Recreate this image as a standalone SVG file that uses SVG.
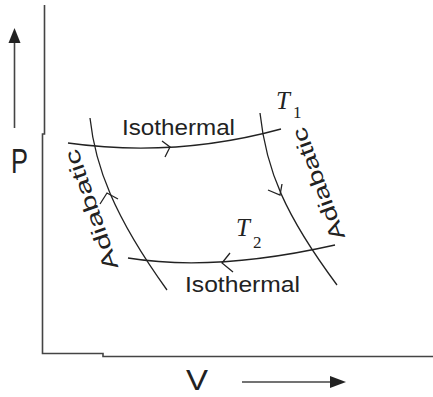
<svg xmlns="http://www.w3.org/2000/svg" width="433" height="397" viewBox="0 0 433 397">
<style>
.axis{fill:none;stroke:#444;stroke-width:1.6}
.curve{fill:none;stroke:#222;stroke-width:1.3}
.chev{fill:none;stroke:#222;stroke-width:1.3;stroke-linejoin:miter}
.lbl{font-family:"Liberation Sans",Arial,sans-serif;fill:#222}
.t{font-family:"Liberation Serif","Times New Roman",serif;font-style:italic;fill:#222}
.sub{font-family:"Liberation Serif","Times New Roman",serif;fill:#222}
</style>
<rect width="433" height="397" fill="#fff"/>
<g id="axes">
<polyline class="axis" points="44.5,5 44.5,134 42.5,134 42.5,353.5 103,353.5 103,356.5 433,356.5"/>
<line class="axis" x1="14.5" y1="128" x2="14.5" y2="40"/>
<polygon points="14.5,28 8.5,43 20.5,43" fill="#222"/>
<line class="axis" x1="242" y1="382" x2="332" y2="382"/>
<polygon points="346,382 330,376 330,388" fill="#222"/>
<text class="lbl" x="11" y="173" font-size="35" textLength="17" lengthAdjust="spacingAndGlyphs">P</text>
<text class="lbl" x="186" y="390" font-size="30" textLength="22" lengthAdjust="spacingAndGlyphs">V</text>
</g>
<g id="connectors">
<path id="iso-top" class="curve" d="M68,143 Q175,158 281,129"/>
<polyline class="chev" points="162,141 170,147 165,157"/>
<path id="iso-bottom" class="curve" d="M128,258 Q215,272 335,245"/>
<polyline class="chev" points="230,253 222,263 233,272"/>
<path id="adi-left" class="curve" d="M90,118 C95,165 113,215 167,290"/>
<polyline class="chev" points="100,204 107,193 118,199"/>
<path id="adi-right" class="curve" d="M260,113 C266,170 285,215 337,285"/>
<polyline class="chev" points="268,190 280,195 282,184"/>
</g>
<g id="label-iso-top"><text class="lbl" x="122" y="135" font-size="22" textLength="113" lengthAdjust="spacingAndGlyphs">Isothermal</text></g>
<g id="label-iso-bottom"><text class="lbl" x="185" y="292" font-size="22" textLength="115" lengthAdjust="spacingAndGlyphs">Isothermal</text></g>
<g id="label-adi-left"><text class="lbl" transform="translate(91,210) rotate(-109)" x="0" y="0" font-size="21" text-anchor="middle" dominant-baseline="central" textLength="126" lengthAdjust="spacingAndGlyphs">Adiabatic</text></g>
<g id="label-adi-right"><text class="lbl" transform="translate(318,184) rotate(-110)" x="0" y="0" font-size="21" text-anchor="middle" dominant-baseline="central" textLength="118" lengthAdjust="spacingAndGlyphs">Adiabatic</text></g>
<g id="label-T1"><text class="t" x="276" y="109" font-size="25">T</text><text class="sub" x="293" y="118" font-size="17">1</text></g>
<g id="label-T2"><text class="t" x="236" y="236" font-size="25">T</text><text class="sub" x="253" y="248" font-size="17">2</text></g>
</svg>
